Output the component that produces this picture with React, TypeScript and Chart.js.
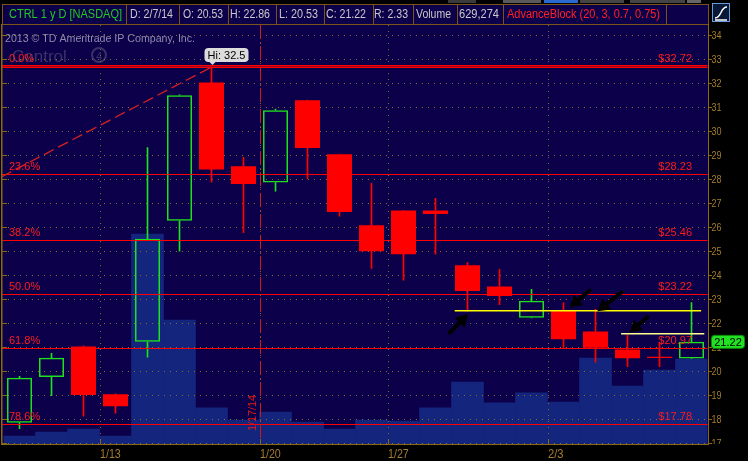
import React, { useEffect, useRef } from 'react';
import { Chart, registerables } from 'chart.js';

Chart.register(...registerables);

// ---------- data ----------
const dates = ['1/8', '1/9', '1/10', '1/13', '1/14', '1/15', '1/16', '1/17', '1/21', '1/22', '1/23', '1/24', '1/27', '1/28', '1/29', '1/30', '1/31', '2/3', '2/4', '2/5', '2/6', '2/7'];
const opens = [17.85, 19.75, 21.03, 19.03, 21.22, 26.27, 32.03, 28.54, 27.86, 31.29, 29.04, 26.08, 26.7, 26.7, 24.41, 23.53, 22.22, 22.54, 21.65, 20.9, 20.6, 20.53];
const highs = [19.78, 20.74, 21.05, 19.05, 29.32, 31.52, 32.72, 28.91, 30.92, 31.3, 29.05, 27.83, 26.7, 27.2, 24.52, 24.24, 23.41, 22.85, 22.57, 21.49, 21.18, 22.86];
const lows = [17.6, 18.98, 18.12, 18.25, 20.58, 25.0, 27.88, 25.77, 27.5, 28.02, 26.46, 24.28, 23.79, 24.87, 22.5, 22.77, 22.22, 20.97, 20.37, 20.18, 20.18, 20.53];
const closes = [19.72, 20.56, 19.0, 18.53, 25.52, 31.5, 28.41, 27.8, 30.88, 29.3, 26.63, 25.0, 24.87, 26.55, 23.34, 23.13, 22.93, 21.33, 20.97, 20.54, 20.55, 21.22];
const volumes = [59000, 89000, 111000, 59000, 1555000, 918000, 267000, 178000, 237000, 163000, 111000, 178000, 170000, 267000, 459000, 304000, 378000, 311000, 637000, 429000, 548000, 629274];

const priceTicks = [17, 18, 19, 20, 21, 22, 23, 24, 25, 26, 27, 28, 29, 30, 31, 32, 33, 34];
const weekStartIdx = [3, 8, 12, 17];
const weekLabels = ['1/13', '1/20', '1/27', '2/3'];

const fibPcts = ['0.0%', '23.6%', '38.2%', '50.0%', '61.8%', '78.6%'];
const fibPrices = [32.72, 28.23, 25.46, 23.22, 20.97, 17.78];
const fibPriceLabels = ['$32.72', '$28.23', '$25.46', '$23.22', '$20.97', '$17.78'];

const eventBoundary = 7.5;
const eventLabel = '1/17/14';
const trendFrom = [-0.5, 28.1];
const trendTo = [6, 32.72];
const hiLabel = 'Hi: 32.5';
const hiIndex = 6;

const yellowLine = [13.6, 21.3, 22.56];
const paleLine = [18.8, 21.4, 21.6];
// [tailIndex, tailValue, headIndex, headValue]
const arrowsData = [
  [13.45, 21.61, 14.02, 22.38],
  [17.81, 23.36, 17.19, 22.65],
  [18.81, 23.28, 18.06, 22.49],
  [19.62, 22.24, 19.06, 21.61],
];

const Y_MIN = 16.96;
const Y_MAX = 34.43;
const VOL_MAX = 3102000;

// ---------- styles ----------
const FONT = '"Liberation Sans", Arial, sans-serif';
const NAVY = '#0d004a';
const VOLC = '#13257d';
const GOLD = '#8b6914';
const GOLDTXT = '#a57c32';
const DOT = '#8a6a2e';
const RED = '#ff0000';
const FIBTXT = '#ff1c1c';
const GREEN = '#1ee01e';

function txt(ctx: any, s: string, x: number, y: number, size: number, color: string, align: any = 'left', maxW?: number) {
  ctx.font = `${size}px ${FONT}`;
  ctx.fillStyle = color;
  ctx.textAlign = align;
  ctx.textBaseline = 'alphabetic';
  if (maxW) ctx.fillText(s, x, y, maxW);
  else ctx.fillText(s, x, y);
}

function drawArrow(ctx: any, x1: number, y1: number, x2: number, y2: number) {
  const ang = Math.atan2(y2 - y1, x2 - x1);
  const hl = 12, hw = 7;
  const bx = x2 - hl * Math.cos(ang), by = y2 - hl * Math.sin(ang);
  ctx.strokeStyle = '#000';
  ctx.lineWidth = 4;
  ctx.lineCap = 'round';
  ctx.setLineDash([]);
  ctx.beginPath();
  ctx.moveTo(x1, y1);
  ctx.lineTo(bx, by);
  ctx.stroke();
  ctx.fillStyle = '#000';
  ctx.beginPath();
  ctx.moveTo(x2, y2);
  ctx.lineTo(bx + hw * Math.sin(ang), by - hw * Math.cos(ang));
  ctx.lineTo(bx - hw * Math.sin(ang), by + hw * Math.cos(ang));
  ctx.closePath();
  ctx.fill();
}

function roundRect(ctx: any, x: number, y: number, w: number, h: number, r: number) {
  ctx.beginPath();
  ctx.moveTo(x + r, y);
  ctx.lineTo(x + w - r, y);
  ctx.quadraticCurveTo(x + w, y, x + w, y + r);
  ctx.lineTo(x + w, y + h - r);
  ctx.quadraticCurveTo(x + w, y + h, x + w - r, y + h);
  ctx.lineTo(x + r, y + h);
  ctx.quadraticCurveTo(x, y + h, x, y + h - r);
  ctx.lineTo(x, y + r);
  ctx.quadraticCurveTo(x, y, x + r, y);
  ctx.closePath();
}

const tosPlugin = {
  id: 'tosPlugin',
  beforeDraw(chart: any) {
    const ctx = chart.ctx;
    const W = chart.width, H = chart.height;
    const { right, bottom } = chart.chartArea;
    ctx.save();
    ctx.fillStyle = '#000';
    ctx.fillRect(0, 0, W, H);
    ctx.fillStyle = '#3a3a3a';
    ctx.fillRect(448, 0, 28, 3);
    ctx.fillStyle = '#5a5a5a';
    ctx.fillRect(503, 0, 38, 3);
    ctx.fillStyle = '#2a6ad0';
    ctx.fillRect(544, 0, 34, 3);
    ctx.fillStyle = '#444';
    ctx.fillRect(580, 0, 44, 3);
    ctx.fillRect(630, 0, 55, 3);
    ctx.fillStyle = '#666';
    ctx.fillRect(687, 0, 14, 3);
    ctx.fillStyle = NAVY;
    ctx.fillRect(2, 4, Math.round(right) - 2, Math.round(bottom) - 4);
    const dividers = [2, 126, 179, 228, 276, 324, 373, 413, 457, 503, 666, 708];
    ctx.strokeStyle = '#7a5418';
    ctx.lineWidth = 1;
    ctx.beginPath();
    ctx.moveTo(2, 4.5); ctx.lineTo(708, 4.5);
    ctx.moveTo(2, 24.5); ctx.lineTo(708, 24.5);
    dividers.forEach((d) => { ctx.moveTo(d + 0.5, 4); ctx.lineTo(d + 0.5, 25); });
    ctx.stroke();
    const n = dates.length - 1;
    const hdr = [
      ['CTRL 1 y D [NASDAQ]', 9, 113, '#22c822'],
      [`D: ${dates[n]}/14`, 130, 43, '#c8c8c8'],
      [`O: ${opens[n].toFixed(2)}`, 183, 40, '#c8c8c8'],
      [`H: ${highs[n].toFixed(2)}`, 230, 40, '#c8c8c8'],
      [`L: ${lows[n].toFixed(2)}`, 279, 39, '#c8c8c8'],
      [`C: ${closes[n].toFixed(2)}`, 326, 40, '#c8c8c8'],
      [`R: ${(highs[n] - lows[n]).toFixed(2)}`, 374, 34, '#c8c8c8'],
      ['Volume', 416, 35, '#c8c8c8'],
      [volumes[n].toLocaleString('en-US'), 459, 40, '#c8c8c8'],
      ['AdvanceBlock (20, 3, 0.7, 0.75)', 507, 153, '#ff2020'],
    ];
    hdr.forEach(([s, x, w, c]: any) => txt(ctx, s, x, 18, 12, c, 'left', w));
    ctx.fillStyle = '#0a1838';
    ctx.fillRect(712, 3, 18, 19);
    ctx.strokeStyle = '#6a9ad8';
    ctx.strokeRect(712.5, 3.5, 17, 18);
    ctx.strokeStyle = '#ffffff';
    ctx.lineWidth = 1.5;
    ctx.beginPath();
    ctx.moveTo(715, 18);
    ctx.bezierCurveTo(722, 18, 720, 7, 727, 7);
    ctx.stroke();
    ctx.beginPath();
    ctx.moveTo(715, 20); ctx.lineTo(727, 20);
    ctx.stroke();
    ctx.restore();
  },
  beforeDatasetsDraw(chart: any) {
    const ctx = chart.ctx;
    ctx.save();
    txt(ctx, '2013 \u00A9 TD Ameritrade IP Company, Inc.', 5, 42, 11, '#8c8cac', 'left', 190);
    txt(ctx, 'Control', 12, 62, 17, 'rgba(100,100,130,0.5)', 'left', 76);
    ctx.strokeStyle = 'rgba(100,100,130,0.5)';
    ctx.lineWidth = 2;
    ctx.beginPath();
    ctx.arc(99, 55, 7, 0, Math.PI * 2);
    ctx.stroke();
    txt(ctx, '4', 99, 60, 11, 'rgba(100,100,130,0.5)', 'center');
    ctx.restore();
  },
  afterDatasetDraw(chart: any, args: any) {
    if (args.index !== 0) return;
    const ctx = chart.ctx;
    const { right, top, bottom } = chart.chartArea;
    const ys = chart.scales.y, xs = chart.scales.x;
    ctx.save();
    ctx.strokeStyle = DOT;
    ctx.lineWidth = 1;
    ctx.setLineDash([1, 5]);
    priceTicks.forEach((v) => {
      const y = Math.round(ys.getPixelForValue(v)) + 0.5;
      if (y < top || y > bottom) return;
      ctx.beginPath();
      ctx.moveTo(8, y);
      ctx.lineTo(right, y);
      ctx.stroke();
    });
    weekStartIdx.forEach((i) => {
      const x = Math.round(xs.getPixelForValue(i - 0.5)) + 0.5;
      ctx.beginPath();
      ctx.moveTo(x, top);
      ctx.lineTo(x, bottom);
      ctx.stroke();
    });
    ctx.restore();
  },
  afterDatasetsDraw(chart: any) {
    const ctx = chart.ctx;
    const { right, top, bottom } = chart.chartArea;
    const ys = chart.scales.y, xs = chart.scales.x;
    const X = (i: number) => xs.getPixelForValue(i);
    const Y = (v: number) => ys.getPixelForValue(v);
    ctx.save();

    const ex = Math.round(X(eventBoundary)) + 0.5;
    ctx.strokeStyle = '#d01818';
    ctx.lineWidth = 1;
    ctx.setLineDash([14, 3, 1, 3]);
    ctx.beginPath();
    ctx.moveTo(ex, top);
    ctx.lineTo(ex, bottom);
    ctx.stroke();
    ctx.setLineDash([]);
    ctx.save();
    ctx.translate(ex - 5, 413);
    ctx.rotate(-Math.PI / 2);
    txt(ctx, eventLabel, 0, 0, 11, '#e01818', 'center', 36);
    ctx.restore();

    fibPrices.forEach((p, k) => {
      const y = Math.round(Y(p));
      if (k === 0) {
        ctx.fillStyle = RED;
        ctx.fillRect(2, y - 1, right - 2, 1);
        ctx.fillRect(2, y + 1, right - 2, 1);
        ctx.fillStyle = '#a00018';
        ctx.fillRect(2, y, right - 2, 1);
      } else {
        ctx.fillStyle = RED;
        ctx.fillRect(2, y, right - 2, 1);
      }
      txt(ctx, fibPcts[k], 9, y - 4, 11, FIBTXT, 'left');
      txt(ctx, fibPriceLabels[k], 692, y - 4, 11, FIBTXT, 'right');
    });

    ctx.strokeStyle = '#d82020';
    ctx.lineWidth = 1.3;
    ctx.setLineDash([11, 5]);
    ctx.beginPath();
    ctx.moveTo(X(trendFrom[0]) - 2, Y(trendFrom[1]));
    ctx.lineTo(X(trendTo[0]) + 2, Y(trendTo[1]));
    ctx.stroke();
    ctx.setLineDash([]);

    ctx.fillStyle = '#ffff00';
    ctx.fillRect(X(yellowLine[0]), Math.round(Y(yellowLine[2])), X(yellowLine[1]) - X(yellowLine[0]), 1.5);
    ctx.fillStyle = '#ffff90';
    ctx.fillRect(X(paleLine[0]), Math.round(Y(paleLine[2])), X(paleLine[1]) - X(paleLine[0]), 1.5);

    arrowsData.forEach((a) => drawArrow(ctx, X(a[0]), Y(a[1]), X(a[2]), Y(a[3])));

    const hx = X(hiIndex), hy = Y(highs[hiIndex]);
    ctx.fillStyle = '#dcdcdc';
    roundRect(ctx, hx - 7, hy - 18, 44, 14, 4);
    ctx.fill();
    ctx.beginPath();
    ctx.moveTo(hx - 3, hy - 5);
    ctx.lineTo(hx + 5, hy - 5);
    ctx.lineTo(hx + 1, hy - 1);
    ctx.closePath();
    ctx.fill();
    txt(ctx, hiLabel, hx + 15, hy - 7, 11, '#000', 'center', 40);

    ctx.fillStyle = GOLD;
    ctx.fillRect(1, 24, 1.5, bottom - 24);
    ctx.fillRect(Math.round(right), 24, 1, bottom - 24);
    ctx.fillRect(1, Math.round(bottom), Math.round(right), 1);
    ctx.save();
    ctx.beginPath();
    ctx.rect(right, 25, chart.width - right, bottom - 25);
    ctx.clip();
    priceTicks.forEach((v) => {
      const y = Y(v);
      ctx.fillStyle = GOLD;
      ctx.fillRect(Math.round(right), Math.round(y), 4, 1);
      txt(ctx, String(v), right + 4, y + 4, 11, GOLDTXT, 'left', 10);
    });
    ctx.restore();
    priceTicks.forEach((v) => {
      const y = Y(v);
      if (y < top || y > bottom) return;
      ctx.fillStyle = GOLD;
      ctx.fillRect(2, Math.round(y), 5, 1);
    });
    weekStartIdx.forEach((i, k) => {
      const x = Math.round(X(i - 0.5));
      ctx.fillStyle = GOLD;
      ctx.fillRect(x, bottom - 4, 1, 4);
      txt(ctx, weekLabels[k], x, 458, 12, GOLDTXT, 'left', weekLabels[k].length * 5.2);
    });

    const n = closes.length - 1;
    const py = Y(closes[n]);
    ctx.fillStyle = '#22e022';
    roundRect(ctx, right + 4, py - 6.5, 33, 13, 3);
    ctx.fill();
    ctx.strokeStyle = '#0a8a0a';
    ctx.lineWidth = 1;
    ctx.stroke();
    txt(ctx, closes[n].toFixed(2), right + 20.5, py + 4, 11, '#000', 'center', 29);

    ctx.restore();
  },
};

export default function App() {
  const ref = useRef<HTMLCanvasElement>(null);
  useEffect(() => {
    if (!ref.current) return;
    const up = closes.map((c, i) => c >= opens[i]);
    const wickColors = up.map((u) => (u ? GREEN : RED));
    const chart = new Chart(ref.current, {
      type: 'bar',
      data: {
        labels: dates,
        datasets: [
          {
            label: 'Volume',
            data: volumes,
            yAxisID: 'yv',
            backgroundColor: VOLC,
            barPercentage: 1,
            categoryPercentage: 1,
            grouped: false,
            order: 5,
          },
          {
            label: 'Upper wick',
            data: dates.map((_, i) => [Math.max(opens[i], closes[i]), highs[i]]),
            yAxisID: 'y',
            backgroundColor: wickColors,
            barThickness: 1,
            grouped: false,
            order: 4,
          },
          {
            label: 'Lower wick',
            data: dates.map((_, i) => [lows[i], Math.min(opens[i], closes[i])]),
            yAxisID: 'y',
            backgroundColor: wickColors,
            barThickness: 1,
            grouped: false,
            order: 3,
          },
          {
            label: 'Down body',
            data: dates.map((_, i) => (up[i] ? null : [opens[i], closes[i]])),
            yAxisID: 'y',
            backgroundColor: RED,
            borderWidth: 0,
            barPercentage: 25 / 32,
            categoryPercentage: 1,
            grouped: false,
            order: 2,
          },
          {
            label: 'Up body',
            data: dates.map((_, i) => (up[i] ? [opens[i], closes[i]] : null)),
            yAxisID: 'y',
            backgroundColor: 'rgba(0,0,0,0)',
            borderColor: GREEN,
            borderWidth: 1.5,
            borderSkipped: false,
            inflateAmount: 0,
            barPercentage: 25 / 32,
            categoryPercentage: 1,
            grouped: false,
            order: 1,
          },
        ] as any,
      },
      options: {
        animation: false,
        responsive: false,
        maintainAspectRatio: false,
        devicePixelRatio: 1,
        layout: { padding: { left: 3.5, right: 40.5, top: 25, bottom: 17 } },
        plugins: { legend: { display: false }, tooltip: { enabled: false } },
        scales: {
          x: { display: false, offset: true, grid: { display: false } },
          y: { display: false, min: Y_MIN, max: Y_MAX },
          yv: { display: false, min: 0, max: VOL_MAX },
        },
      } as any,
      plugins: [tosPlugin as any],
    });
    return () => chart.destroy();
  }, []);
  return (
    <div style={{ position: 'fixed', left: 0, top: 0, width: 748, height: 461, background: '#000' }}>
      <canvas ref={ref} width={748} height={461} style={{ width: 748, height: 461, display: 'block' }} />
    </div>
  );
}
